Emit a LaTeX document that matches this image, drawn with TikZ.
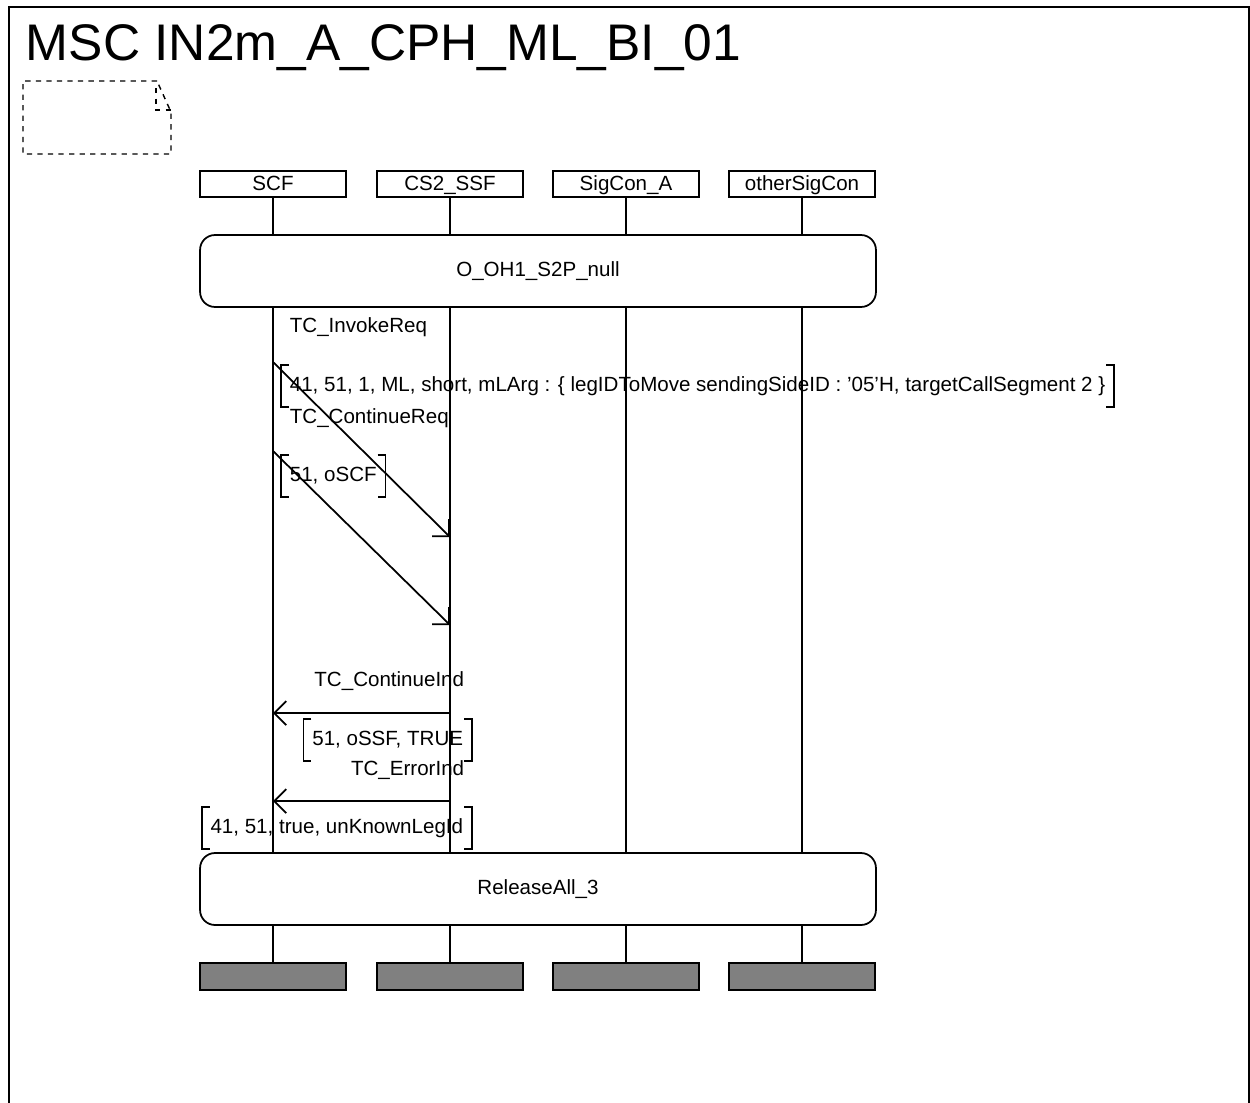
\documentclass[tikz,border=0pt]{standalone}
\usepackage{fontspec}
\setmainfont{Liberation Sans}
\usetikzlibrary{arrows.meta,positioning}

\newcommand{\msgfont}{\fontsize{11.7}{14}\selectfont}
\tikzset{
  inst/.style={draw, minimum width=2.92cm, minimum height=0.52cm, inner sep=0pt, text height=1.85ex, text depth=0.4ex, font=\msgfont},
  instend/.style={draw, fill=black!50, minimum width=2.92cm, minimum height=0.54cm, inner sep=0pt},
  cond/.style={draw, rounded corners=0.3cm, minimum width=13.52cm, minimum height=1.44cm, font=\msgfont},
  msg/.style={-{Straight Barb[length=0.24cm,width=0.48cm]}},
  lbl/.style={font=\msgfont, inner sep=0pt},
  param/.style={font=\msgfont, inner xsep=0.16cm, inner ysep=0pt, minimum height=0.8cm},
}
% square brackets round a parameter node
\newcommand{\bracks}[1]{%
  \draw ([xshift=0.16cm]#1.north west) -- (#1.north west) -- (#1.south west) -- ([xshift=0.16cm]#1.south west);
  \draw ([xshift=-0.16cm]#1.north east) -- (#1.north east) -- (#1.south east) -- ([xshift=-0.16cm]#1.south east);}

\begin{document}
\begin{tikzpicture}[x=0.02cm, y=-0.02cm, line width=1pt]
\useasboundingbox (0,0) rectangle (1250,1102);
\draw (9,7) rectangle (1249,1130);
\node[anchor=base west, inner sep=0pt, font=\fontsize{29.3}{34}\selectfont] (title) at (25,60) {MSC IN2m\_A\_CPH\_ML\_BI\_01};
% document symbol
\draw[dashed, line width=0.8pt] (157,81) -- (23,81) -- (23,154) -- (171,154) -- (171,112) -- cycle;
\draw[dashed, line width=0.8pt] (156,88) -- (156,110) -- (171,110);

% instances
\node[inst] (scf) at (273,184) {SCF};
\node[inst] (ssf) at (450,184) {CS2\_SSF};
\node[inst] (sca) at (626,184) {SigCon\_A};
\node[inst] (osc) at (802,184) {otherSigCon};
\node[cond] (c1) at (538,271) {O\_OH1\_S2P\_null};
\node[cond] (c2) at (538,889) {ReleaseAll\_3};
\node[instend] (endscf) at (273,976.5) {};
\node[instend] (endssf) at (450,976.5) {};
\node[instend] (endsca) at (626,976.5) {};
\node[instend] (endosc) at (802,976.5) {};
\foreach \n in {scf,ssf,sca,osc} {
  \draw (\n.south) -- (\n.south |- c1.north);
  \draw (\n.south |- c1.south) -- (\n.south |- c2.north);
  \draw (\n.south |- c2.south) -- (end\n.north);
}

% messages
\coordinate (m1a) at (273,362);
\coordinate (m1b) at (450,537);
\coordinate (m2a) at (273,451);
\coordinate (m2b) at (450,625);
\coordinate (m3a) at (450,713);
\coordinate (m3b) at (273,713);
\coordinate (m4a) at (450,801);
\coordinate (m4b) at (273,801);
\draw[msg] (m1a) -- (m1b);
\draw[msg] (m2a) -- (m2b);
\draw[msg] (m3a) -- (m3b);
\draw[msg] (m4a) -- (m4b);

\node[lbl, anchor=west] (l1) at (289,327) {TC\_InvokeReq};
\node[param, anchor=west] (p1) at (281,386) {41, 51, 1, ML, short, mLArg : \{ legIDToMove sendingSideID : '05'H, targetCallSegment 2 \}};
\bracks{p1}
\node[lbl, anchor=west] (l2) at (289,418) {TC\_ContinueReq};
\node[param, anchor=west] (p2) at (281,476) {51, oSCF};
\bracks{p2}
\node[lbl, anchor=east] (l3) at (465,681) {TC\_ContinueInd};
\node[param, anchor=east] (p3) at (472,740) {51, oSSF, TRUE};
\bracks{p3}
\node[lbl, anchor=east] (l4) at (465,770) {TC\_ErrorInd};
\node[param, anchor=east] (p4) at (472,828) {41, 51, true, unKnownLegId};
\bracks{p4}
\end{tikzpicture}
\end{document}
